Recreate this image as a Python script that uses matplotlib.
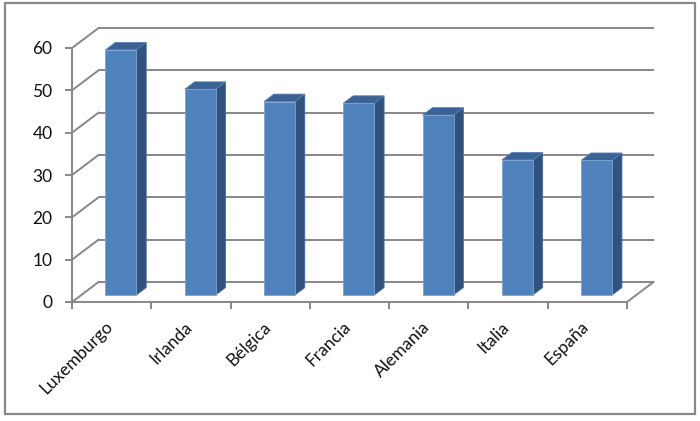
import matplotlib
matplotlib.use("Agg")
import matplotlib.pyplot as plt
from matplotlib.patches import Polygon, Rectangle
from matplotlib.transforms import ScaledTranslation

categories = ["Luxemburgo", "Irlanda", "Bélgica", "Francia", "Alemania", "Italia", "España"]
values = [57.9, 48.6, 45.7, 45.3, 42.5, 31.9, 31.8]
y_ticks = [0, 10, 20, 30, 40, 50, 60]

W, H, DPI = 700, 421, 100
fig = plt.figure(figsize=(W / DPI, H / DPI), dpi=DPI)
fig.patch.set_facecolor("white")

# depth projection (in data units)
DX, DY = 0.335, 4.73
ZF, ZB = 0.35, 0.72
BAR_W = 0.39
n = len(categories)
xmax, ymax = 7.4, 66.0

px_x = 555.0 / 7.0
px_y = 254.0 / 60.0
left_px, bottom_px = 72.0, 421.0 - 302.0
ax = fig.add_axes([left_px / W, bottom_px / H, xmax * px_x / W, ymax * px_y / H])
ax.set_xlim(0, xmax)
ax.set_ylim(0, ymax)
ax.patch.set_alpha(0)

def P(x, v, z):
    return (x + z * DX, v + z * DY)

grid_c = "#878787"
# back wall gridlines and left wall lines
for v in y_ticks:
    ax.plot(*zip(P(0, v, 1), P(n, v, 1)), color=grid_c, lw=1.4, zorder=1, solid_capstyle="butt")
    ax.plot(*zip(P(0, v, 0), P(0, v, 1)), color=grid_c, lw=1.4, zorder=1)
# floor right edge
ax.plot(*zip(P(n, 0, 0), P(n, 0, 1)), color=grid_c, lw=1.4, zorder=1)

front_c, side_c, top_c = "#4F81BD", "#30527D", "#3B6294"
for i, v in enumerate(values):
    xc = i + 0.5
    x0, x1 = xc - BAR_W / 2, xc + BAR_W / 2
    side = [P(x1, 0, ZF), P(x1, 0, ZB), P(x1, v, ZB), P(x1, v, ZF)]
    top = [P(x0, v, ZF), P(x1, v, ZF), P(x1, v, ZB), P(x0, v, ZB)]
    front = [P(x0, 0, ZF), P(x1, 0, ZF), P(x1, v, ZF), P(x0, v, ZF)]
    ax.add_patch(Polygon(side, closed=True, fc=side_c, ec="#4A6E9C", lw=0.6, zorder=3))
    ax.add_patch(Polygon(top, closed=True, fc=top_c, ec="#5A80B0", lw=0.6, zorder=3))
    ax.add_patch(Polygon(front, closed=True, fc=front_c, ec="#7FA3D0", lw=0.6, zorder=4))

for s in ["top", "right"]:
    ax.spines[s].set_visible(False)
for s in ["left", "bottom"]:
    ax.spines[s].set_color(grid_c)
    ax.spines[s].set_linewidth(1.4)
ax.spines["left"].set_bounds(0, 60)
ax.spines["bottom"].set_bounds(0, n)

font = "Lato"
ax.set_yticks(y_ticks)
ax.set_yticklabels([str(t) for t in y_ticks], fontsize=12.5, family=font, color="#111111")
ax.tick_params(axis="y", length=5, width=1.4, color=grid_c, pad=9)

ax.set_xticks(range(n + 1))
ax.set_xticklabels([])
ax.set_xticks([i + 0.5 for i in range(n)], minor=True)
ax.set_xticklabels(categories, minor=True, rotation=45, ha="right", rotation_mode="anchor",
                   fontsize=12.5, family=font, color="#111111")
ax.tick_params(axis="x", which="major", length=5, width=1.4, color=grid_c)
ax.tick_params(axis="x", which="minor", length=0, pad=9)
shift = ScaledTranslation(-7 / DPI, -4 / DPI, fig.dpi_scale_trans)
for lab in ax.get_xticklabels(minor=True):
    lab.set_transform(lab.get_transform() + shift)

# outer chart border
fig.patches.append(Rectangle((4.5 / W, (H - 414) / H), (694.5 - 4.5) / W, (414 - 3) / H,
                             transform=fig.transFigure, fill=False, ec="#888888", lw=1.6))

fig.savefig("out.png", dpi=DPI, facecolor="white")
